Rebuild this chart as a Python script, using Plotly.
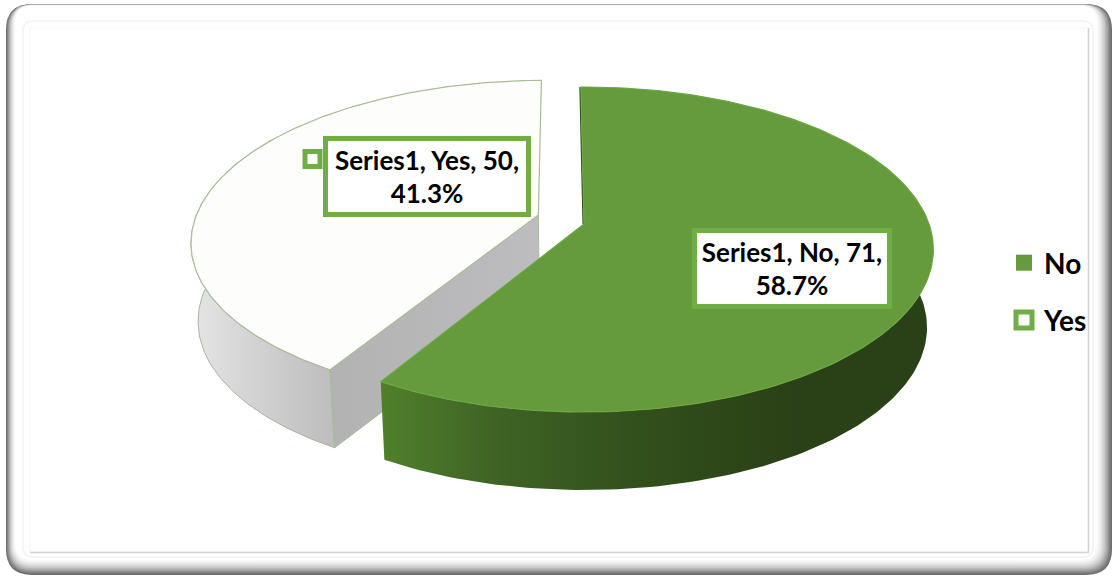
import numpy as np
import plotly.graph_objects as go

# Chart data
series_name = "Series1"
categories = ["No", "Yes"]
values = [71, 50]
explode = [0.0, 0.145]

# Palette
GREEN_TOP = "#659b3c"
GREEN_EDGE = "#6aa842"
ACCENT = "#70ad47"
WHITE_TOP = "#fdfefb"
FONT = "Lato, Carlito, Calibri, sans-serif"

W, H = 1118, 579

# Tilted-disc projection: pivot, radii and perspective strength, in pixels
PIVOT_X, PIVOT_Y = 584.0, 224.0
RADIUS_X, RADIUS_Y = 345.0, 158.5
PERSPECTIVE = 0.157
THICKNESS = 78.0
BASE_SHRINK = 0.982
FIRST_SLICE_DEG = -0.6
EXPLODE_TILT_DEG = 8.0


def project(u, v):
    w = 1 + PERSPECTIVE * v
    return PIVOT_X + RADIUS_X * u / w, PIVOT_Y - RADIUS_Y * v / w


def lower(x, y):
    return PIVOT_X + BASE_SHRINK * (x - PIVOT_X), y + THICKNESS


def slice_geometry(start_deg, end_deg, burst):
    mid = np.radians((start_deg + end_deg) / 2 + EXPLODE_TILT_DEG)
    du, dv = burst * np.sin(mid), burst * np.cos(mid)
    t = np.radians(np.linspace(start_deg, end_deg, 180))
    rim_x, rim_y = project(np.sin(t) + du, np.cos(t) + dv)
    apex_x, apex_y = project(du, dv)
    return rim_x, rim_y, apex_x, apex_y


def rounded_rect(x0, y0, x1, y1, r):
    return (f"M{x0+r},{y0} L{x1-r},{y0} Q{x1},{y0} {x1},{y0+r} L{x1},{y1-r} "
            f"Q{x1},{y1} {x1-r},{y1} L{x0+r},{y1} Q{x0},{y1} {x0},{y1-r} "
            f"L{x0},{y0+r} Q{x0},{y0} {x0+r},{y0} Z")


# Bevelled picture frame built from stacked rounded rectangles
frame_greys = ["#6e6e6e", "#7f7f7f", "#929292", "#a6a6a6", "#b8b8b8", "#c8c8c8",
               "#d6d6d6", "#e2e2e2", "#ececec", "#f4f4f4", "#fafafa", "#ffffff"]
shapes = []
for i, grey in enumerate(frame_greys):
    path = rounded_rect(6 + 0.85 * i, 4 + 0.15 * i, 1112 - 1.4 * i, 575 - 1.4 * i, 26 - i * 0.8)
    shapes.append(dict(type="path", path=path, fillcolor=grey, line_width=0, layer="below"))
shapes.append(dict(type="path", path=rounded_rect(23, 21, 1093, 557, 10),
                   fillcolor="#ffffff", line=dict(color="#f3f3f3", width=1.5), layer="below"))
shapes.append(dict(type="rect", x0=30, y0=28, x1=1088, y1=552,
                   fillcolor="#ffffff", line=dict(color="#f7f7f7", width=1), layer="below"))
shapes.append(dict(type="path", path="M1088.5,28 L1088.5,552.5 L30,552.5",
                   line=dict(color="#d2d2d2", width=1.5), layer="below"))

# Slice angles follow the values, clockwise from the top
total = sum(values)
shares = [v / total for v in values]
edges = FIRST_SLICE_DEG + np.concatenate([[0], np.cumsum(shares) * 360])

no_rim_x, no_rim_y, no_ax, no_ay = slice_geometry(edges[0], edges[1], explode[0])
yes_rim_x, yes_rim_y, yes_ax, yes_ay = slice_geometry(edges[1], edges[2], explode[1])

fig = go.Figure()


def polygon(xs, ys, fill=None, gradient=None, edge=None, edge_width=1.0):
    fig.add_trace(go.Scatter(
        x=list(xs), y=list(ys), mode="lines", fill="toself",
        fillcolor=fill, fillgradient=gradient,
        line=dict(color=edge or "rgba(0,0,0,0)", width=edge_width if edge else 0),
        showlegend=False, hoverinfo="skip"))


def band(rim_x, rim_y):
    low_x, low_y = lower(rim_x, rim_y)
    return np.r_[rim_x, low_x[::-1], rim_x[0]], np.r_[rim_y, low_y[::-1], rim_y[0]]


# Yes slice: curved wall, cut wall, then the top face
bx, by = band(yes_rim_x[:110], yes_rim_y[:110])
polygon(bx, by,
        gradient=dict(type="horizontal", start=190, stop=335,
                      colorscale=[[0, "#e6e6e6"], [0.45, "#d2d2d2"], [1, "#bdbdbd"]]),
        edge="#a8b3a0", edge_width=1)
end_x, end_y = yes_rim_x[0], yes_rim_y[0]
low_end_x, low_end_y = lower(end_x, end_y)
low_ax, low_ay = lower(yes_ax, yes_ay)
polygon([yes_ax, end_x, low_end_x, low_ax, yes_ax], [yes_ay, end_y, low_end_y, low_ay, yes_ay],
        gradient=dict(type="horizontal", start=325, stop=540,
                      colorscale=[[0, "#b2b2b2"], [1, "#bdbdc0"]]),
        edge="#a9bb99", edge_width=1)
polygon(np.r_[yes_ax, yes_rim_x, yes_ax], np.r_[yes_ay, yes_rim_y, yes_ay],
        fill=WHITE_TOP, edge="#a9bb99", edge_width=1.2)

# No slice: dark inner edge, curved wall, then the top face
fig.add_trace(go.Scatter(
    x=[no_ax - 0.8, no_rim_x[0] - 0.8], y=[no_ay, no_rim_y[0]], mode="lines",
    line=dict(color="#2f4a1a", width=1.5), showlegend=False, hoverinfo="skip"))
visible = 60
bx, by = band(no_rim_x[visible:], no_rim_y[visible:])
polygon(bx, by,
        gradient=dict(type="horizontal", start=385, stop=800,
                      colorscale=[[0, "#4f7f2b"], [0.25, "#3f6425"], [0.6, "#32501c"], [1, "#2a4016"]]))
polygon(np.r_[no_ax, no_rim_x, no_ax], np.r_[no_ay, no_rim_y, no_ay],
        fill=GREEN_TOP, edge=GREEN_EDGE, edge_width=1.2)


def label_text(category, value, share):
    return f"<b>{series_name}, {category}, {value},<br>{share * 100:.1f}%</b>"


# Data callouts: (centre x, centre y, width, height) in pixels
callouts = {"No": (792, 268.5, 190, 71), "Yes": (427, 176.5, 198, 71)}
annotations = []
for cat, val, share in zip(categories, values, shares):
    cx, cy, bw, bh = callouts[cat]
    annotations.append(dict(
        x=cx, y=cy, xref="x", yref="y", xanchor="center", yanchor="middle",
        text=label_text(cat, val, share), showarrow=False, width=bw, height=bh,
        align="center", valign="middle", bgcolor="#ffffff",
        bordercolor=ACCENT, borderwidth=5, borderpad=0,
        font=dict(family=FONT, size=26, color="#000000")))

# Small colour key beside the Yes callout
fig.add_trace(go.Scatter(
    x=[312.5], y=[159], mode="markers", showlegend=False, hoverinfo="skip",
    marker=dict(symbol="square", size=15, color="#ffffff", line=dict(color=ACCENT, width=5))))

# Legend entries
legend_markers = {"No": dict(symbol="square", size=18, color=GREEN_TOP),
                  "Yes": dict(symbol="square", size=17, color="#ffffff",
                              line=dict(color=ACCENT, width=5))}
for cat in categories:
    fig.add_trace(go.Scatter(x=[None], y=[None], mode="markers", name=f"<b>{cat}</b>",
                             legendgroup=cat, marker=legend_markers[cat]))

fig.update_layout(
    width=W, height=H, margin=dict(l=0, r=0, t=0, b=0, pad=0),
    paper_bgcolor="#ffffff", plot_bgcolor="rgba(0,0,0,0)",
    xaxis=dict(range=[0, W], visible=False, fixedrange=True),
    yaxis=dict(range=[H, 0], visible=False, fixedrange=True),
    shapes=shapes, annotations=annotations, hovermode=False,
    legend=dict(x=1004 / W, y=1 - 238 / H, xanchor="left", yanchor="top",
                bgcolor="rgba(0,0,0,0)", itemsizing="trace", tracegroupgap=18,
                font=dict(family=FONT, size=28, color="#000000"),
                itemwidth=30, traceorder="grouped"),
)

fig.write_html("out.html", config=dict(displayModeBar=False))
